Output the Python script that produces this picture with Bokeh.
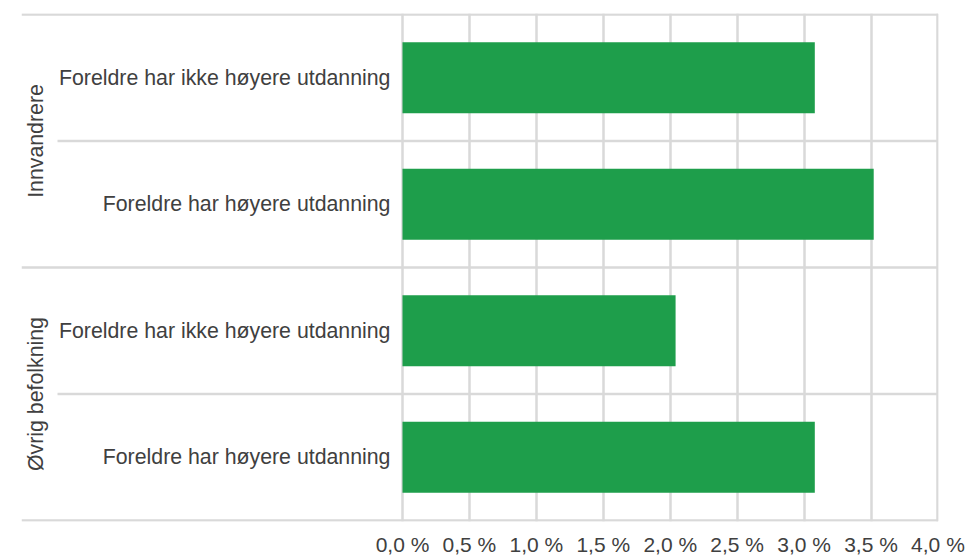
from bokeh.plotting import figure
from bokeh.models import Range1d, FixedTicker, CustomJSTickFormatter, ColumnDataSource
from bokeh.core.properties import value
from bokeh.embed import file_html
from bokeh.resources import INLINE

# ---- data ----
groups = ["Innvandrere", "Øvrig befolkning"]
subgroups = ["Foreldre har ikke høyere utdanning", "Foreldre har høyere utdanning"]
values = [3.08, 3.52, 2.04, 3.08]   # per cent, top to bottom
x_ticks = [0.0, 0.5, 1.0, 1.5, 2.0, 2.5, 3.0, 3.5, 4.0]

# ---- style / layout ----
FONT = "Liberation Sans"
TXT = "#404040"
GRID = "#d9d9d9"
BAR = "#1e9e4b"
X_MIN = -2.846          # left edge of frame (label area)
X_SUB_LINE = -2.577     # start of within-group separator lines
X_LABEL_RIGHT = -0.09   # right edge of category labels
X_GROUP_LABEL = -2.735  # rotated group labels

n_rows = len(groups) * len(subgroups)
rows = []
labels = []
for gi, g in enumerate(groups):
    for si, s in enumerate(subgroups):
        rows.append(n_rows - (gi * len(subgroups) + si) - 0.5)
        labels.append(s)

p = figure(width=966, height=558, output_backend="svg", toolbar_location=None,
           x_range=Range1d(X_MIN, 4.004), y_range=Range1d(-0.008, n_rows + 0.008),
           y_axis_location=None, min_border_left=21, min_border_right=28,
           min_border_top=13, min_border_bottom=35)
p.outline_line_color = None
p.background_fill_color = "white"
p.border_fill_color = "white"
p.ygrid.visible = False

p.xgrid.ticker = FixedTicker(ticks=x_ticks)
p.xgrid.grid_line_color = GRID
p.xgrid.grid_line_width = 2.5

ax = p.xaxis[0]
ax.ticker = FixedTicker(ticks=x_ticks)
ax.formatter = CustomJSTickFormatter(code="return tick.toFixed(1).replace('.', ',') + ' %';")
ax.axis_line_color = None
ax.major_tick_line_color = None
ax.minor_tick_line_color = None
ax.major_tick_out = 0
ax.minor_tick_out = 0
ax.major_label_standoff = 11
ax.major_label_text_font = FONT
ax.major_label_text_font_size = "21px"
ax.major_label_text_color = TXT

# horizontal separator lines
n_sub = len(subgroups)
y_lines = list(range(n_rows + 1))
x0s = [X_MIN if (y % n_sub == 0) else X_SUB_LINE for y in y_lines]
x1s = [x_ticks[-1]] * len(y_lines)
p.segment(x0=x0s, y0=y_lines, x1=x1s, y1=y_lines, line_color=GRID, line_width=2.5)

# bars
src = ColumnDataSource(dict(y=rows, v=values, lab=labels))
p.hbar(y="y", left=0, right="v", height=0.56, source=src, fill_color=BAR, line_color=None)

# category labels
p.text(x=X_LABEL_RIGHT, y="y", text="lab", source=src, text_align="right",
       text_baseline="middle", text_font=value(FONT), text_font_size="21.3px", text_color=TXT)

# group labels
g_y = [n_rows - n_sub * gi - n_sub / 2 for gi in range(len(groups))]
p.text(x=[X_GROUP_LABEL] * len(groups), y=g_y, text=groups, angle=1.5707963,
       text_align="center", text_baseline="middle", text_font=value(FONT),
       text_font_size="21.3px", text_color=TXT)

open("out.html", "w").write(file_html(p, INLINE))
